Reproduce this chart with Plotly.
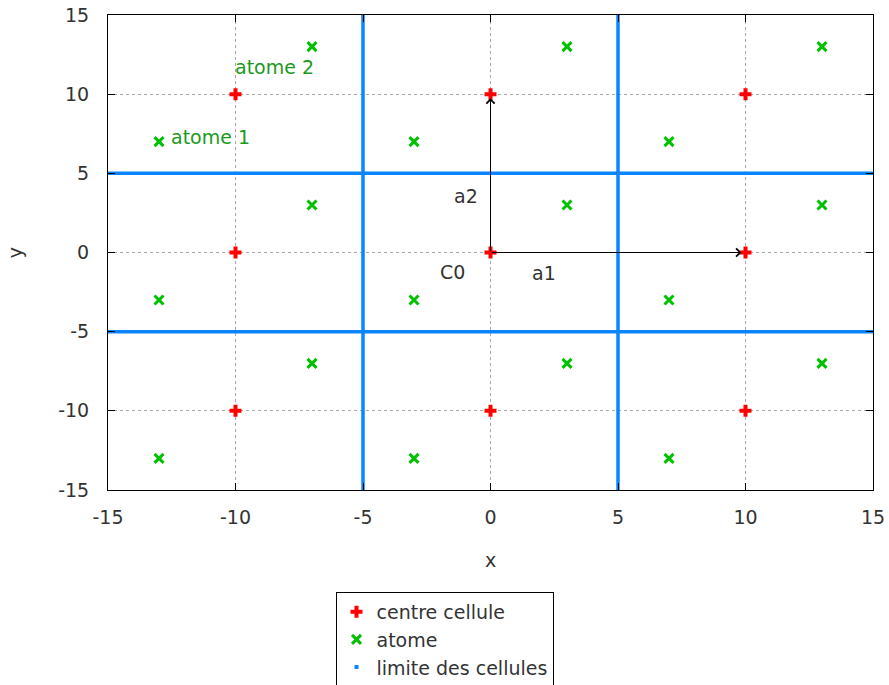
import plotly.graph_objects as go

# ---- data ----
centre_x = [-10, 0, 10, -10, 0, 10, -10, 0, 10]
centre_y = [10, 10, 10, 0, 0, 0, -10, -10, -10]

atome_x = [-13, -7, -7, -13, -7, -13, -3, 3, 3, -3, 3, -3, 7, 13, 13, 7, 13, 7]
atome_y = [7, 13, 3, -3, -7, -13, 7, 13, 3, -3, -7, -13, 7, 13, 3, -3, -7, -13]

limites = [-5, 5]
borne = [-15, 15]

ticks = [-15, -10, -5, 0, 5, 10, 15]
tick_labels = ["-15", "-10", "-5", "0", "5", "10", "15"]

FONT = "DejaVu Sans"
TXT = "#333333"
FS = 19

# build limit lines
lx, ly = [], []
for v in limites:
    lx += [v, v, None]
    ly += [borne[0], borne[1], None]
for v in limites:
    lx += [borne[0], borne[1], None]
    ly += [v, v, None]

fig = go.Figure()
fig.add_trace(go.Scatter(x=lx, y=ly, mode="lines", line=dict(color="#0a84ff", width=3.5),
                         showlegend=False, hoverinfo="skip"))
fig.add_trace(go.Scatter(x=centre_x, y=centre_y, mode="markers", name="centre cellule",
                         marker=dict(symbol="cross", size=10, color="#ff0000")))
fig.add_trace(go.Scatter(x=atome_x, y=atome_y, mode="markers", name="atome",
                         marker=dict(symbol="x-thin", size=9, color="#00c000",
                                     line=dict(width=3, color="#00c000"))))
fig.add_trace(go.Scatter(x=[None], y=[None], mode="markers", name="limite des cellules",
                         marker=dict(symbol="square", size=4, color="#0a84ff")))

# arrows a1, a2
for (hx, hy) in [(10, 0), (0, 10)]:
    fig.add_annotation(x=hx, y=hy, ax=0, ay=0, xref="x", yref="y", axref="x", ayref="y",
                       showarrow=True, arrowhead=4, arrowsize=1.6, arrowwidth=1,
                       standoff=4, arrowcolor="#000000", text="")

labels = [("a1", 2.1, -1.3), ("a2", -0.95, 3.6), ("C0", -1.5, -1.2)]
for t, x, y in labels:
    fig.add_annotation(x=x, y=y, text=t, showarrow=False,
                       font=dict(family=FONT, size=FS, color=TXT))

for t, x, y in [("atome 1", -12.6, 7.3), ("atome 2", -10.1, 11.7)]:
    fig.add_annotation(x=x, y=y, text=t, showarrow=False, xanchor="left",
                       font=dict(family=FONT, size=FS, color="#1a9a1a"))

axis_common = dict(range=[-15, 15], tickvals=ticks, ticktext=tick_labels, showgrid=True,
                   gridcolor="#a8a8a8", griddash="dot", gridwidth=1, zeroline=False,
                   showline=True, linecolor="#000000", linewidth=1, mirror="ticks",
                   ticks="inside", ticklen=7, tickcolor="#000000", automargin=False,
                   tickfont=dict(family=FONT, size=FS, color=TXT))

fig.update_layout(
    width=889, height=685,
    margin=dict(l=108, r=16, t=15, b=195, autoexpand=False),
    plot_bgcolor="white", paper_bgcolor="white",
    xaxis=dict(**axis_common, ticklabelstandoff=10,
               title=dict(text="x", font=dict(family=FONT, size=FS, color=TXT), standoff=26)),
    yaxis=dict(**axis_common, ticklabelstandoff=14,
               title=dict(text="y", font=dict(family=FONT, size=FS, color=TXT), standoff=30)),
    legend=dict(x=0.5, xanchor="center", xref="container", y=0.136, yref="container",
                yanchor="top", bordercolor="#000000",
                borderwidth=1, font=dict(family=FONT, size=FS, color=TXT),
                tracegroupgap=0, itemwidth=30),
    font=dict(family=FONT),
)

fig.write_html("out.html")
